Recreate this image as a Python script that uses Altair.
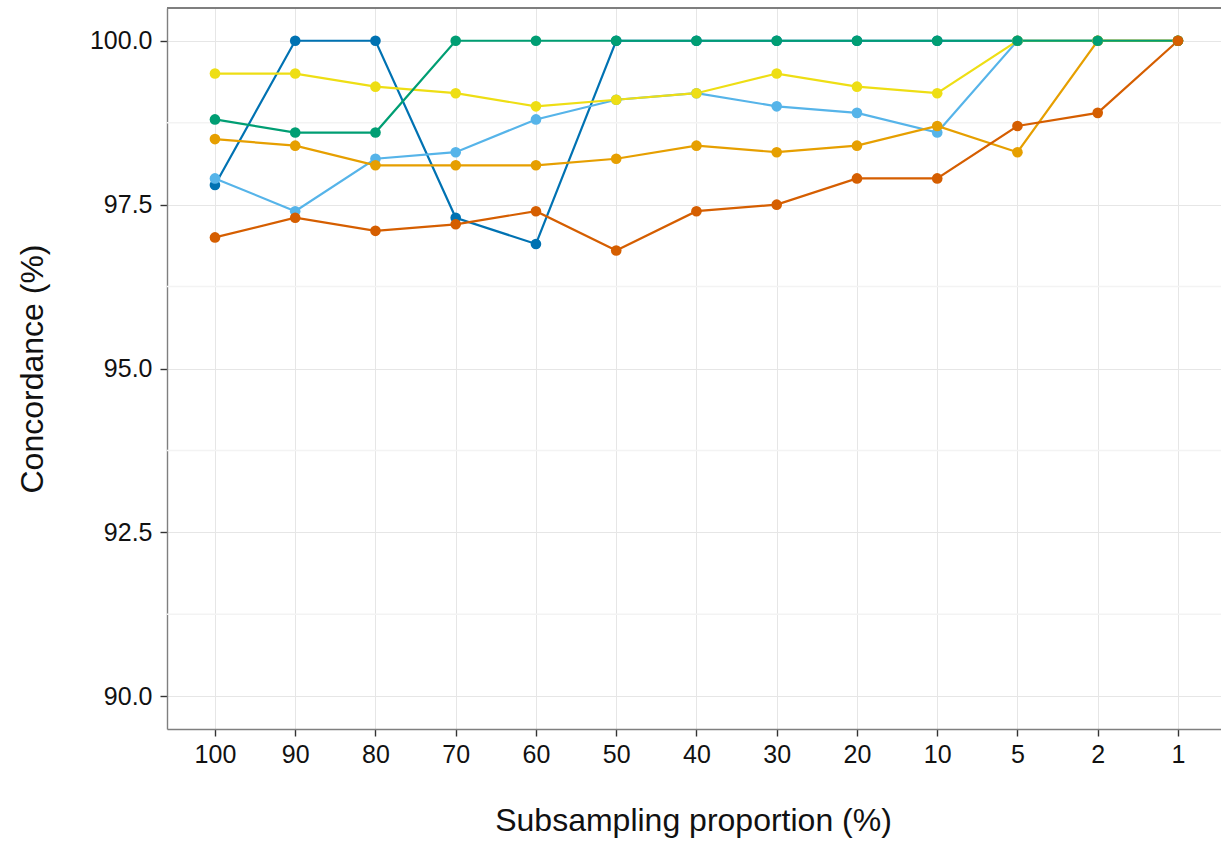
import altair as alt
import pandas as pd

# Subsampling proportions (x categories, left to right)
proportions = ["100", "90", "80", "70", "60", "50", "40", "30", "20", "10", "5", "2", "1"]

# Concordance (%) per series
s_blue = [97.8, 100.0, 100.0, 97.3, 96.9, 100.0, 100.0, 100.0, 100.0, 100.0, 100.0, 100.0, 100.0]
s_sky = [97.9, 97.4, 98.2, 98.3, 98.8, 99.1, 99.2, 99.0, 98.9, 98.6, 100.0, 100.0, 100.0]
s_orange = [98.5, 98.4, 98.1, 98.1, 98.1, 98.2, 98.4, 98.3, 98.4, 98.7, 98.3, 100.0, 100.0]
s_yellow = [99.5, 99.5, 99.3, 99.2, 99.0, 99.1, 99.2, 99.5, 99.3, 99.2, 100.0, 100.0, 100.0]
s_green = [98.8, 98.6, 98.6, 100.0, 100.0, 100.0, 100.0, 100.0, 100.0, 100.0, 100.0, 100.0, 100.0]
s_red = [97.0, 97.3, 97.1, 97.2, 97.4, 96.8, 97.4, 97.5, 97.9, 97.9, 98.7, 98.9, 100.0]

series_names = ["s1", "s2", "s3", "s4", "s5", "s6"]
series_values = [s_blue, s_sky, s_orange, s_yellow, s_green, s_red]
series_colors = ["#0072B2", "#56B4E9", "#E69F00", "#EEDE14", "#009E73", "#D55E00"]

y_major = [90.0, 92.5, 95.0, 97.5, 100.0]
y_minor = [91.25, 93.75, 96.25, 98.75]

rows = []
for order, (name, vals) in enumerate(zip(series_names, series_values)):
    for i, (p, v) in enumerate(zip(proportions, vals)):
        rows.append({"series": name, "order": order, "idx": i, "prop": p, "value": v})
df = pd.DataFrame(rows)
minor_df = pd.DataFrame({"y": y_minor})

W, H = 1054, 721
FONT = "Liberation Sans"

x_enc = alt.X(
    "prop:O",
    sort=proportions,
    scale=alt.Scale(type="point", padding=0.567, align=0.527),
    axis=alt.Axis(
        title="Subsampling proportion (%)",
        labelAngle=0,
        labelPadding=6,
        titleX=W / 2 - 1,
        titleY=101,
        titleBaseline="alphabetic",
        titleAnchor="middle",
        grid=True,
    ),
)
y_enc = alt.Y(
    "value:Q",
    scale=alt.Scale(domain=[89.5, 100.5], nice=False, zero=False),
    axis=alt.Axis(
        title="Concordance (%)",
        values=y_major,
        format=".1f",
        labelPadding=8,
        titleX=-125,
        titleY=H / 2,
        titleAngle=-90,
        titleBaseline="alphabetic",
        titleAlign="center",
        grid=True,
    ),
)
color_enc = alt.Color(
    "series:N",
    scale=alt.Scale(domain=series_names, range=series_colors),
    legend=None,
)

minor_grid = alt.Chart(minor_df).mark_rule(color="#F3F3F3", strokeWidth=1.5).encode(
    y=alt.Y("y:Q", scale=alt.Scale(domain=[89.5, 100.5], nice=False, zero=False))
)

lines = alt.Chart(df).mark_line(strokeWidth=2.2).encode(
    x=x_enc, y=y_enc, color=color_enc, detail="series:N", order="idx:Q"
)
points = alt.Chart(df).mark_circle(size=113, opacity=1).encode(
    x=x_enc, y=y_enc, color=color_enc
)

top_border = alt.Chart(minor_df).mark_rule(color="#7F7F7F", strokeWidth=1.4).encode(
    x=alt.value(0), x2=alt.value(W), y=alt.value(0)
)

chart = (
    alt.layer(minor_grid, lines, points, top_border)
    .properties(
        width=W,
        height=H,
        autosize=alt.AutoSizeParams(type="none"),
        padding={"left": 167, "top": 8, "right": 0, "bottom": 112},
        background="white",
    )
    .configure_view(stroke=None)
    .configure_axis(
        labelFont=FONT,
        titleFont=FONT,
        labelFontSize=25,
        titleFontSize=32,
        labelColor="#111111",
        titleColor="#111111",
        titleFontWeight="normal",
        gridColor="#E6E6E6",
        gridWidth=1,
        domainColor="#7F7F7F",
        domainWidth=1.4,
        tickColor="#333333",
        tickSize=7,
        tickWidth=1.4,
    )
)

chart.save("out.html", embed_options={"renderer": "svg", "actions": False})
